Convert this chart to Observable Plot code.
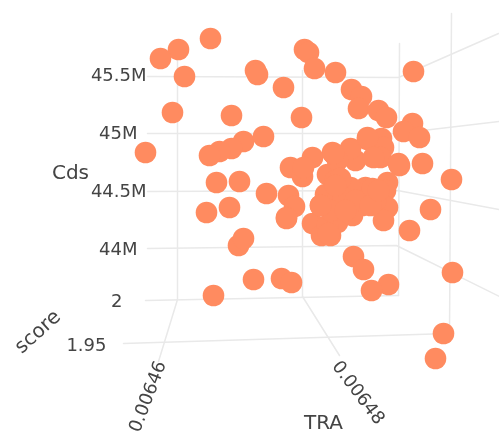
<!DOCTYPE html>
<html><head><meta charset="utf-8">
<script src="https://cdn.jsdelivr.net/npm/d3@7"></script>
<script src="https://cdn.jsdelivr.net/npm/@observablehq/plot@0.6"></script>
<style>html,body{margin:0;padding:0;background:#fff}svg{display:block;filter:blur(.35px)}</style>
</head><body><div id="chart"></div>
<script>
// Projected positions of the 3D scatter
const pointX = [210,178,160,184,172,231,145,243,231,219,209,216,239,206,229,304,308,314,335,413,255,257,283,301,351,361,358,378,386,412,403,419,263,367,381,383,422,451,399,380,355,350,332,312,290,302,303,327,337,266,288,294,286,325,387,385,430,362,387,375,365,350,337,335,343,286,409,383,312,321,330,337,327,353,363,388,371,281,291,253,452,443,435,238,243,213,320,372,330,352,367,373,333,398,340,335,355,370,345,320,378,328];
const pointY = [38,49,58,76,112,115,152,141,148,151,155,182,181,212,207,49,52,68,72,71,70,74,87,117,89,96,108,110,117,123,131,137,136,139,138,147,163,179,165,157,160,148,152,157,167,176,167,174,160,193,195,206,217,194,182,190,209,205,207,200,187,187,200,180,197,218,230,220,223,235,235,222,225,256,269,284,290,278,282,279,272,333,358,245,238,295,205,188,210,215,137,157,153,163,178,185,200,205,210,205,190,233];
const gridLines = [
  {id:"cds45.5", xs:[147,398,498], ys:[76,77,33]},
  {id:"cds45",   xs:[147,397,499], ys:[133,133,121]},
  {id:"cds44.5", xs:[147,397,499], ys:[191,190,209]},
  {id:"cds44",   xs:[147,396,499], ys:[248,245,296]},
  {id:"tra1", xs:[177,177], ys:[58,299]},
  {id:"tra2", xs:[302,302], ys:[70,296]},
  {id:"tra3", xs:[399,398], ys:[43,295]},
  {id:"tra4", xs:[451,449], ys:[13,333]},
  {id:"score2", xs:[145,398], ys:[300,295]},
  {id:"score195", xs:[123,449], ys:[343,333]},
  {id:"tra646", xs:[177,158], ys:[299,361]},
  {id:"tra648", xs:[302,339], ys:[296,355]}
];
const tickLabels = ["45.5M","45M","44.5M","44M","2","1.95"];
const tickX = [146,137,146,137,122,106];
const tickY = [75,133,191,249,301,345];
const rotatedLabels = ["0.00646","0.00648"];
const rotatedX = [147,358];
const rotatedY = [396,392];
const rotatedAngle = [-69,53];
const titles = ["Cds","TRA","score"];
const titleX = [70,323,37];
const titleY = [172,422,331];
const titleAngle = [0,0,-42];

const points = pointX.map((x,i)=>({x,y:pointY[i]}));
const segs = gridLines.flatMap(g=>g.xs.map((x,i)=>({id:g.id,x,y:g.ys[i]})));
const ticks = tickLabels.map((t,i)=>({t,x:tickX[i],y:tickY[i]}));
const rot = rotatedLabels.map((t,i)=>({t,x:rotatedX[i],y:rotatedY[i],a:rotatedAngle[i]}));
const ttl = titles.map((t,i)=>({t,x:titleX[i],y:titleY[i],a:titleAngle[i]}));

const font = "DejaVu Sans";
const chart = Plot.plot({
  width:499,height:435,margin:0,
  x:{domain:[0,499],axis:null},
  y:{domain:[435,0],axis:null},
  marks:[
    Plot.line(segs,{x:"x",y:"y",z:"id",stroke:"#e9e9e9",strokeWidth:1.5}),
    Plot.dot(points,{x:"x",y:"y",r:10.8,fill:"#ff8b60",stroke:"none"}),
    Plot.text(ticks,{x:"x",y:"y",text:"t",textAnchor:"end",fontSize:18,fill:"#444",fontFamily:font}),
    ...rot.map(d=>Plot.text([d],{x:"x",y:"y",text:"t",rotate:d.a,fontSize:18,fill:"#444",fontFamily:font})),
    ...ttl.map(d=>Plot.text([d],{x:"x",y:"y",text:"t",rotate:d.a,fontSize:20,fill:"#444",fontFamily:font}))
  ]
});
document.getElementById("chart").appendChild(chart);
</script></body></html>
